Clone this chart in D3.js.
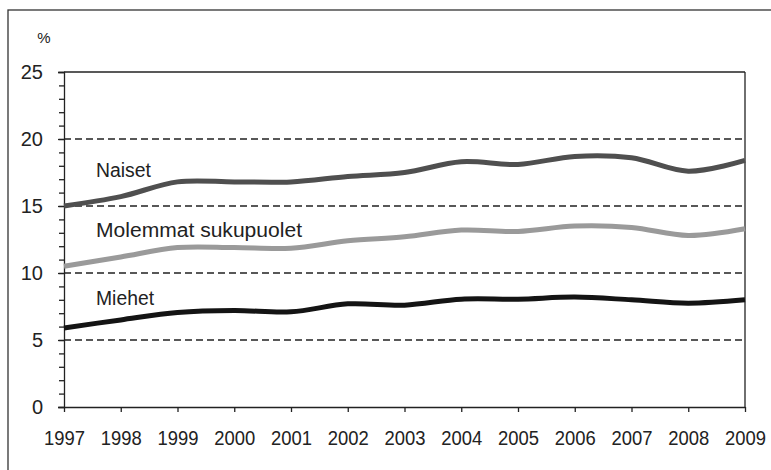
<!DOCTYPE html>
<html><head><meta charset="utf-8">
<script src="https://cdn.jsdelivr.net/npm/d3@7"></script>
<style>
body{margin:0;background:#fff;}
svg{display:block;font-family:Arial,"Liberation Sans",sans-serif;}
</style></head>
<body><div id="chart"></div>
<script>
const years = [1997,1998,1999,2000,2001,2002,2003,2004,2005,2006,2007,2008,2009];
const naiset = [15.0,15.7,16.8,16.8,16.8,17.2,17.5,18.3,18.1,18.7,18.6,17.6,18.4];
const molemmat = [10.5,11.2,11.9,11.9,11.85,12.4,12.7,13.2,13.1,13.5,13.4,12.8,13.3];
const miehet = [5.9,6.5,7.05,7.2,7.1,7.7,7.6,8.05,8.05,8.2,8.0,7.75,8.0];
const seriesNames = ["Naiset","Molemmat sukupuolet","Miehet"];
const seriesColors = ["#4f4f4f","#9a9a9a","#141414"];
const labelValues = [17.15,12.7,7.6];
const yTicks = [0,5,10,15,20,25];
const gridValues = [5,10,15,20];

const W = 771, H = 470;
const m = {left:64, top:72, right:745, bottom:407};
const svg = d3.select("#chart").append("svg").attr("width",W).attr("height",H);

// outer frame
svg.append("rect").attr("x",8).attr("y",10).attr("width",W+20).attr("height",H+20)
  .attr("fill","none").attr("stroke","#333").attr("stroke-width",1.3);

const x = d3.scalePoint().domain(years).range([m.left,m.right]);
const y = d3.scaleLinear().domain([0,25]).range([m.bottom,m.top]);

// gridlines
svg.append("g").selectAll("line").data(gridValues).join("line")
  .attr("x1",m.left).attr("x2",m.right)
  .attr("y1",d=>y(d)).attr("y2",d=>y(d))
  .attr("stroke","#222").attr("stroke-width",1.3).attr("stroke-dasharray","7,4");

// plot frame top & right
svg.append("line").attr("x1",m.left).attr("x2",m.right).attr("y1",y(25)).attr("y2",y(25))
  .attr("stroke","#222").attr("stroke-width",1.3);
svg.append("line").attr("x1",m.right).attr("x2",m.right).attr("y1",y(25)).attr("y2",y(0))
  .attr("stroke","#222").attr("stroke-width",1.3);

// y axis with minor ticks
const yMinor = d3.axisLeft(y).tickValues(d3.range(0,26,1)).tickSize(5).tickFormat("");
const gMinor = svg.append("g").attr("transform",`translate(${m.left},0)`).call(yMinor);
gMinor.select(".domain").remove();
gMinor.selectAll("line").attr("stroke","#222").attr("stroke-width",1.3);

const yAxis = d3.axisLeft(y).tickValues(yTicks).tickSize(6).tickPadding(15);
const gy = svg.append("g").attr("transform",`translate(${m.left},0)`).call(yAxis);
gy.select(".domain").attr("stroke","#222").attr("stroke-width",1.3);
gy.selectAll("line").attr("stroke","#222").attr("stroke-width",1.3);
gy.selectAll("text").attr("font-size",20).attr("fill","#222")
  .attr("font-family","Arial,'Liberation Sans',sans-serif");

// x axis
const xAxis = d3.axisBottom(x).tickSize(5).tickPadding(19).tickSizeOuter(0);
const gx = svg.append("g").attr("transform",`translate(0,${m.bottom})`).call(xAxis);
gx.select(".domain").attr("stroke","#222").attr("stroke-width",1.3);
gx.selectAll("line").attr("stroke","#222").attr("stroke-width",1.3);
gx.selectAll("text").attr("font-size",20).attr("fill","#222")
  .attr("font-family","Arial,'Liberation Sans',sans-serif")
  .attr("textLength",41).attr("lengthAdjust","spacingAndGlyphs");

// % label
svg.append("text").attr("x",44).attr("y",43).attr("text-anchor","middle")
  .attr("font-size",15).attr("fill","#222").text("%");

// lines
const line = d3.line().x((d,i)=>x(years[i])).y(d=>y(d)).curve(d3.curveCatmullRom.alpha(0.5));
const data = [naiset, molemmat, miehet];
svg.append("g").selectAll("path").data(data).join("path")
  .attr("d",d=>line(d)).attr("fill","none")
  .attr("stroke",(d,i)=>seriesColors[i]).attr("stroke-width",5)
  .attr("stroke-linejoin","round");

// series labels
const labelWidths = [55, 206, 58];
svg.append("g").selectAll("text").data(seriesNames).join("text")
  .attr("x",96).attr("y",(d,i)=>y(labelValues[i]))
  .attr("font-size",20).attr("fill","#222")
  .attr("textLength",(d,i)=>labelWidths[i]).attr("lengthAdjust","spacingAndGlyphs")
  .text(d=>d);
</script></body></html>
